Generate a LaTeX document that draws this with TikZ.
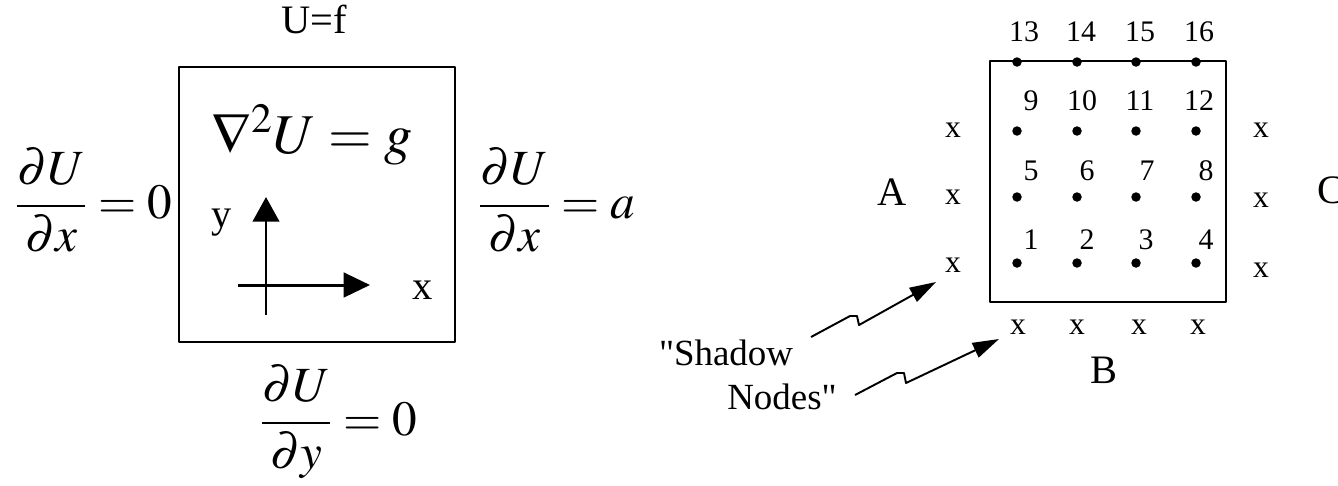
\documentclass[tikz,border=0pt]{standalone}
\usepackage{mathptmx}
\usepackage[no-math]{fontspec}
\setmainfont{Liberation Serif}[Ligatures=TeXOff]
\usetikzlibrary{arrows.meta}

\tikzset{
  bigmath/.style={font=\fontsize{28}{34}\selectfont, inner sep=0pt},
  axislabel/.style={font=\fontsize{23}{26}\selectfont, inner sep=0pt},
  gridnum/.style={font=\fontsize{17}{20}\selectfont, inner sep=0pt},
  shadowx/.style={font=\fontsize{18}{20}\selectfont, inner sep=0pt},
  sidelabel/.style={font=\fontsize{23}{26}\selectfont, inner sep=0pt},
  notelabel/.style={font=\fontsize{21}{24}\selectfont, inner sep=0pt},
  meshdot/.style={circle, fill, inner sep=0pt, minimum size=5.4pt},
  zigarrow/.style={line width=1.1pt, -{Triangle[length=15pt, width=9pt]}},
}

\begin{document}
\begin{tikzpicture}[x=0.02cm, y=-0.02cm, line join=round, >=Triangle]
  \useasboundingbox (0,0) rectangle (1338,485);

  % continuous problem
  \draw[line width=1.1pt] (179,67) rectangle (455,342);
  \node[font=\fontsize{23}{26}\selectfont, inner sep=0pt, anchor=base] (bctop) at (314,33) {U=f};
  \node[font=\fontsize{32}{38}\selectfont, inner sep=0pt, anchor=base west] (pde) at (211,153) {$\nabla^2U=g$};
  \node[bigmath, anchor=base west] (bcleft) at (15,218) {$\displaystyle\frac{\partial U}{\partial x}=0$};
  \node[bigmath, anchor=base west] (bcright) at (478,218) {$\displaystyle\frac{\partial U}{\partial x}=a$};
  \node[bigmath, anchor=base west] (bcbottom) at (260,435) {$\displaystyle\frac{\partial U}{\partial y}=0$};

  \coordinate (ybot) at (266,315);
  \coordinate (ytop) at (266,197);
  \coordinate (xleft) at (238,285);
  \coordinate (xright) at (370,285);
  \draw[line width=1.7pt, -{Triangle[length=14pt, width=15pt]}] (ybot) -- (ytop);
  \draw[line width=1.7pt, -{Triangle[length=15pt, width=14pt]}] (xleft) -- (xright);
  \node[axislabel] (ylab) at (222,223) {y};
  \node[axislabel] (xlab) at (423,290) {x};

  % discretised grid
  \draw[line width=1.3pt] (990,61) rectangle (1226,302);
  \foreach \r/\yy in {0/263,1/197,2/131,3/62}
    \foreach \c/\xx in {1/1017,2/1077,3/1136,4/1196}
      \node[meshdot] (n\r\c) at (\xx,\yy) {};
  \foreach \num/\lx/\ly in {1/1031/240, 2/1087/240, 3/1146/240, 4/1206/240,
      5/1031/171, 6/1087/171, 7/1147/171, 8/1206/171,
      9/1031/101, 10/1082/101, 11/1140/101, 12/1199/101,
      13/1024/32, 14/1081/32, 15/1140/32, 16/1199/32}
    \node[gridnum] (lab\num) at (\lx,\ly) {\num};

  % shadow nodes
  \foreach \i/\yy in {1/130,2/197,3/265}
    \node[shadowx] (xl\i) at (953,\yy) {x};
  \foreach \i/\yy in {1/130,2/200,3/270}
    \node[shadowx] (xr\i) at (1261,\yy) {x};
  \foreach \i/\xx in {1/1018,2/1077,3/1139,4/1198}
    \node[shadowx] (xb\i) at (\xx,327) {x};

  \node[sidelabel] (sideA) at (892,192) {A};
  \node[sidelabel] (sideB) at (1104,370) {B};
  \node[sidelabel] (sideC) at (1331,190) {C};

  \node[notelabel] (shadow) at (726,353) {"Shadow};
  \node[notelabel] (nodes) at (782,397) {Nodes"};

  \coordinate (tipA) at (936,282);
  \coordinate (tipB) at (999,339);
  \draw[zigarrow] (811,337) -- (850,316) -- (857,316) -- (859,325) -- (tipA);
  \draw[zigarrow] (855,395) -- (897,373) -- (904,373) -- (906,383) -- (tipB);
\end{tikzpicture}
\end{document}
